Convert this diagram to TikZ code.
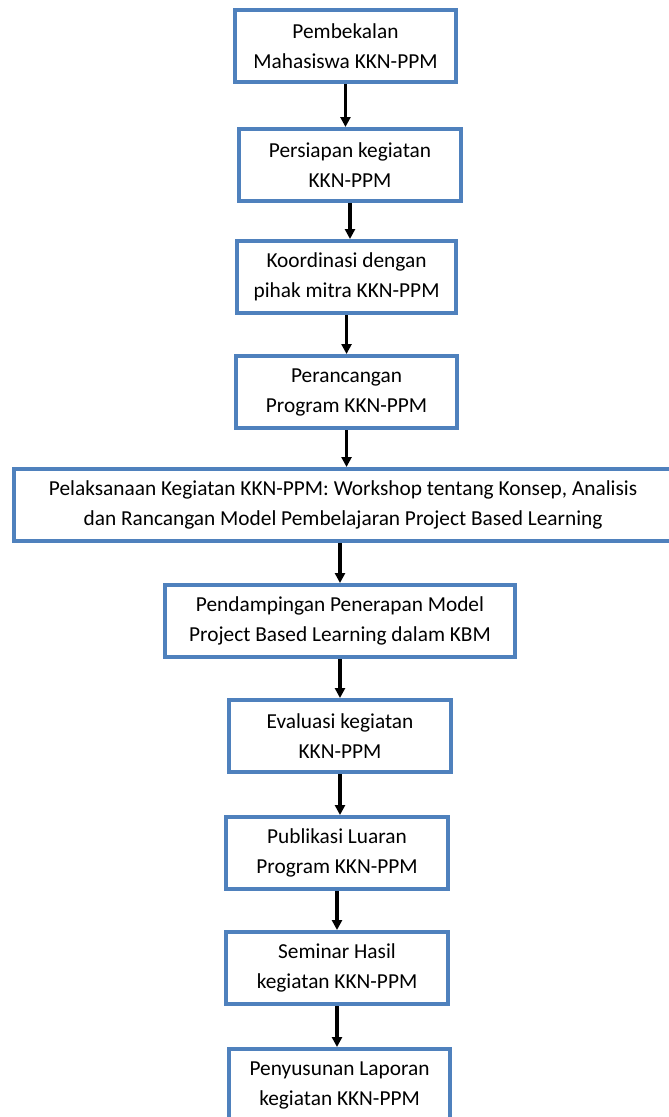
\documentclass[tikz,border=0pt]{standalone}
\usepackage{fontspec}
\setmainfont{Carlito}
\usetikzlibrary{arrows.meta, positioning}
\definecolor{boxblue}{RGB}{79,129,189}

\begin{document}
\begin{tikzpicture}[
    node distance=30pt,
    stepbox/.style={rectangle, draw=boxblue, line width=3pt, align=center, minimum width=166pt, minimum height=54pt, inner sep=2pt, font=\fontsize{16}{22.5}\selectfont},
    arrow/.style={-{Triangle[length=7.5pt,width=7.5pt]}, line width=2.4pt}
]
\useasboundingbox (0,0) rectangle (501pt,-837.75pt);
\node[stepbox] (bekal) at (259.1pt,-34.5pt) {Pembekalan\\Mahasiswa KKN-PPM};
\node[stepbox, below=32.25pt of bekal, xshift=3.4pt] (siap) {Persiapan kegiatan\\KKN-PPM};
\node[stepbox, below=27pt of siap, xshift=-2.6pt, minimum width=164pt] (koord) {Koordinasi dengan\\pihak mitra KKN-PPM};
\node[stepbox, below=29.25pt of koord] (rancang) {Perancangan\\Program KKN-PPM};
\node[stepbox, below=27.75pt of rancang, xshift=-2.6pt, minimum width=493.5pt] (laksana) {Pelaksanaan Kegiatan KKN-PPM: Workshop tentang Konsep, Analisis\\dan Rancangan Model Pembelajaran Project Based Learning};
\node[stepbox, below=30pt of laksana, xshift=-2.3pt, minimum width=262.5pt] (damping) {Pendampingan Penerapan Model\\Project Based Learning dalam KBM};
\node[stepbox, below=29.25pt of damping] (evaluasi) {Evaluasi kegiatan\\KKN-PPM};
\node[stepbox, below=30.75pt of evaluasi, xshift=-2.25pt] (publikasi) {Publikasi Luaran\\Program KKN-PPM};
\node[stepbox, below=29.25pt of publikasi] (seminar) {Seminar Hasil\\kegiatan KKN-PPM};
\node[stepbox, below=30.75pt of seminar, xshift=1.9pt] (laporan) {Penyusunan Laporan\\kegiatan KKN-PPM};

\draw[arrow] (bekal.south) -- (bekal.south |- siap.north);
\draw[arrow] (siap.south) -- (siap.south |- koord.north);
\draw[arrow] (koord.south) -- (koord.south |- rancang.north);
\draw[arrow] (rancang.south) -- (rancang.south |- laksana.north);
\draw[arrow] (damping.north |- laksana.south) -- (damping.north);
\draw[arrow] (damping.south) -- (damping.south |- evaluasi.north);
\draw[arrow] (evaluasi.south) -- (evaluasi.south |- publikasi.north);
\draw[arrow] (publikasi.south) -- (publikasi.south |- seminar.north);
\draw[arrow] (seminar.south) -- (seminar.south |- laporan.north);
\end{tikzpicture}
\end{document}
